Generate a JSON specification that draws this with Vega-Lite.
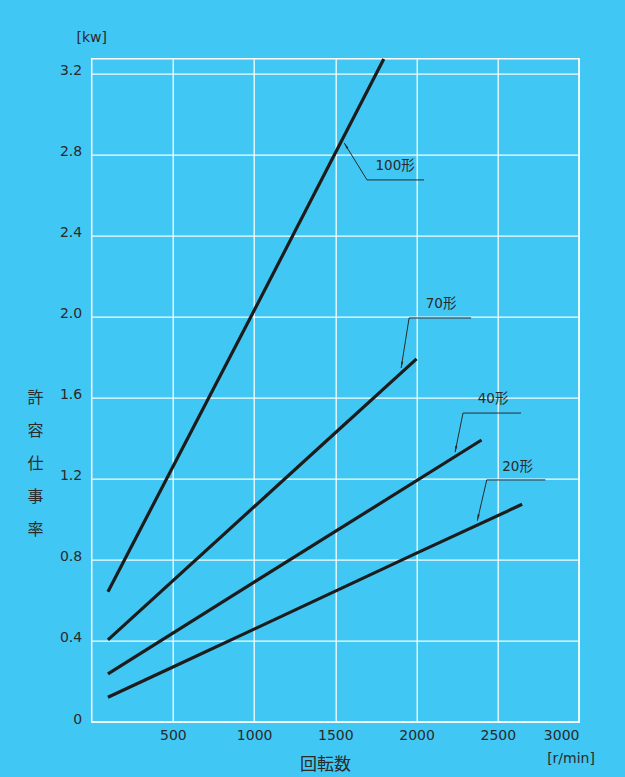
{
  "$schema": "https://vega.github.io/schema/vega-lite/v6.json",
  "autosize": {"type": "none"},
  "padding": {"left": 91.7, "top": 58.7, "right": 46, "bottom": 55},
  "width": 487.3,
  "height": 663.3,
  "background": "#41C7F4",
  "config": {
    "view": {"stroke": "#ffffff", "strokeWidth": 1.5, "fill": "#41C7F4"},
    "font": "DejaVu Sans, Noto Sans CJK JP"
  },
  "datasets": {
    "curves": [
      {"model": "100形", "rpm": 100, "kw": 0.643},
      {"model": "100形", "rpm": 1000, "kw": 2.03},
      {"model": "100形", "rpm": 1798, "kw": 3.27},
      {"model": "70形", "rpm": 100, "kw": 0.405},
      {"model": "70形", "rpm": 1000, "kw": 1.062},
      {"model": "70形", "rpm": 1500, "kw": 1.427},
      {"model": "70形", "rpm": 2000, "kw": 1.791},
      {"model": "40形", "rpm": 100, "kw": 0.237},
      {"model": "40形", "rpm": 1000, "kw": 0.69},
      {"model": "40形", "rpm": 1500, "kw": 0.94},
      {"model": "40形", "rpm": 2400, "kw": 1.391},
      {"model": "20形", "rpm": 100, "kw": 0.122},
      {"model": "20形", "rpm": 500, "kw": 0.271},
      {"model": "20形", "rpm": 1000, "kw": 0.458},
      {"model": "20形", "rpm": 2000, "kw": 0.833},
      {"model": "20形", "rpm": 2650, "kw": 1.074}
    ],
    "leaders": [
      {"model": "100形", "seq": 1, "rpm": 1554, "kw": 2.857},
      {"model": "100形", "seq": 2, "rpm": 1695, "kw": 2.674},
      {"model": "100形", "seq": 3, "rpm": 2046, "kw": 2.674},
      {"model": "70形", "seq": 1, "rpm": 1905, "kw": 1.746},
      {"model": "70形", "seq": 2, "rpm": 1954, "kw": 1.993},
      {"model": "70形", "seq": 3, "rpm": 2336, "kw": 1.993},
      {"model": "40形", "seq": 1, "rpm": 2237, "kw": 1.331},
      {"model": "40形", "seq": 2, "rpm": 2286, "kw": 1.524},
      {"model": "40形", "seq": 3, "rpm": 2643, "kw": 1.524},
      {"model": "20形", "seq": 1, "rpm": 2374, "kw": 0.993},
      {"model": "20形", "seq": 2, "rpm": 2432, "kw": 1.194},
      {"model": "20形", "seq": 3, "rpm": 2793, "kw": 1.194}
    ],
    "names": [
      {"model": "100形", "rpm": 1868, "kw": 2.743},
      {"model": "70形", "rpm": 2151, "kw": 2.062},
      {"model": "40形", "rpm": 2471, "kw": 1.594},
      {"model": "20形", "rpm": 2622, "kw": 1.26}
    ],
    "units": [
      {"text": "[kw]", "rpm": 0, "kw": 3.373},
      {"text": "[r/min]", "rpm": 2951, "kw": -0.183}
    ]
  },
  "layer": [
    {
      "data": {"name": "curves"},
      "mark": {"type": "line", "color": "#1c1c1c", "strokeWidth": 3.2, "strokeCap": "butt"},
      "encoding": {
        "x": {
          "field": "rpm", "type": "quantitative",
          "scale": {"domain": [0, 3000], "nice": false, "zero": false},
          "axis": {
            "values": [500, 1000, 1500, 2000, 2500, 3000],
            "format": "d",
            "grid": true, "gridColor": "#ffffff", "gridWidth": 1.3, "gridOpacity": 0.95,
            "domain": false, "ticks": false, "tickSize": 0,
            "labelFontSize": 14, "labelColor": "#2a2a2a", "labelPadding": 6,
            "labelFont": "DejaVu Sans",
            "title": "回転数", "titleFont": "Noto Sans CJK JP", "titleFontSize": 17,
            "titleFontWeight": "normal", "titleColor": "#2a2a2a",
            "titleX": 233.3, "titleY": 42, "titleBaseline": "middle", "titleAlign": "center"
          }
        },
        "y": {
          "field": "kw", "type": "quantitative",
          "scale": {"domain": [0, 3.272], "nice": false, "zero": false},
          "axis": {
            "values": [0, 0.4, 0.8, 1.2, 1.6, 2.0, 2.4, 2.8, 3.2],
            "labelExpr": "datum.value == 0 ? '0' : format(datum.value, '.1f')",
            "grid": true, "gridColor": "#ffffff", "gridWidth": 1.3, "gridOpacity": 0.95,
            "domain": false, "ticks": false, "tickSize": 0,
            "labelFontSize": 14, "labelColor": "#2a2a2a", "labelPadding": 10,
            "labelFont": "DejaVu Sans", "labelOffset": -3,
            "title": ["許", "容", "仕", "事", "率"],
            "titleFont": "Noto Sans CJK JP", "titleFontSize": 16, "titleFontWeight": "normal",
            "titleColor": "#2a2a2a", "titleAngle": 0, "titleAlign": "center",
            "titleBaseline": "middle", "titleLineHeight": 33,
            "titleX": -56.7, "titleY": 338.6
          }
        },
        "detail": {"field": "model", "type": "nominal"}
      }
    },
    {
      "data": {"name": "leaders"},
      "mark": {"type": "line", "color": "#2a2a2a", "strokeWidth": 1},
      "encoding": {
        "x": {"field": "rpm", "type": "quantitative"},
        "y": {"field": "kw", "type": "quantitative"},
        "detail": {"field": "model", "type": "nominal"},
        "order": {"field": "seq", "type": "quantitative"}
      }
    },
    {
      "data": {"name": "leaders"},
      "transform": [{"filter": "datum.seq == 1 && datum.model == '100形'"}],
      "mark": {"type": "point", "shape": "M0,0L-0.28,1.6L0.28,1.6Z", "filled": true, "size": 64, "color": "#2a2a2a", "opacity": 1, "angle": 328},
      "encoding": {
        "x": {"field": "rpm", "type": "quantitative"},
        "y": {"field": "kw", "type": "quantitative"}
      }
    },
    {
      "data": {"name": "leaders"},
      "transform": [{"filter": "datum.seq == 1 && datum.model == '70形'"}],
      "mark": {"type": "point", "shape": "M0,0L-0.28,1.6L0.28,1.6Z", "filled": true, "size": 64, "color": "#2a2a2a", "opacity": 1, "angle": 189},
      "encoding": {
        "x": {"field": "rpm", "type": "quantitative"},
        "y": {"field": "kw", "type": "quantitative"}
      }
    },
    {
      "data": {"name": "leaders"},
      "transform": [{"filter": "datum.seq == 1 && datum.model == '40形'"}],
      "mark": {"type": "point", "shape": "M0,0L-0.28,1.6L0.28,1.6Z", "filled": true, "size": 64, "color": "#2a2a2a", "opacity": 1, "angle": 191.5},
      "encoding": {
        "x": {"field": "rpm", "type": "quantitative"},
        "y": {"field": "kw", "type": "quantitative"}
      }
    },
    {
      "data": {"name": "leaders"},
      "transform": [{"filter": "datum.seq == 1 && datum.model == '20形'"}],
      "mark": {"type": "point", "shape": "M0,0L-0.28,1.6L0.28,1.6Z", "filled": true, "size": 64, "color": "#2a2a2a", "opacity": 1, "angle": 193},
      "encoding": {
        "x": {"field": "rpm", "type": "quantitative"},
        "y": {"field": "kw", "type": "quantitative"}
      }
    },
    {
      "data": {"name": "names"},
      "mark": {"type": "text", "fontSize": 13.5, "color": "#2a2a2a", "align": "center", "baseline": "middle", "font": "DejaVu Sans, Noto Sans CJK JP"},
      "encoding": {
        "x": {"field": "rpm", "type": "quantitative"},
        "y": {"field": "kw", "type": "quantitative"},
        "text": {"field": "model", "type": "nominal"}
      }
    },
    {
      "data": {"name": "units"},
      "mark": {"type": "text", "fontSize": 14, "color": "#2a2a2a", "align": "center", "baseline": "middle", "font": "DejaVu Sans"},
      "encoding": {
        "x": {"field": "rpm", "type": "quantitative"},
        "y": {"field": "kw", "type": "quantitative"},
        "text": {"field": "text", "type": "nominal"}
      }
    }
  ]
}
